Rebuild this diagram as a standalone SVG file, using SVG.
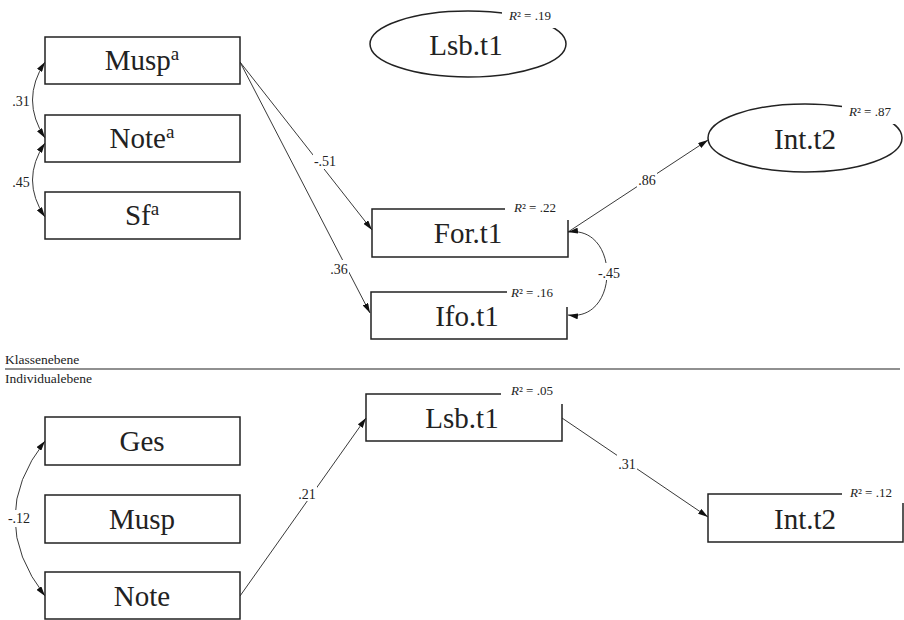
<svg xmlns="http://www.w3.org/2000/svg" width="904" height="620" viewBox="0 0 904 620">
<defs>
<marker id="ah" viewBox="0 0 10 6" refX="10" refY="3" markerWidth="10" markerHeight="6" markerUnits="userSpaceOnUse" orient="auto-start-reverse">
<path d="M0,0 L10,3 L0,6 z" fill="#111"/>
</marker>
<style>
text{font-family:"Liberation Serif","DejaVu Serif",serif;fill:#222}
.box{fill:#fff;stroke:#222;stroke-width:1.5}
.obox{fill:none;stroke:#222;stroke-width:1.5}
.lbl{font-size:29px;text-anchor:middle}
.r2{font-size:13px}
.el{font-size:14px;text-anchor:middle}
.lvl{font-size:13.5px}
.ln{fill:none;stroke:#222;stroke-width:0.9}
.bg{fill:#fff}
</style>
</defs>
<rect width="904" height="620" fill="#fff"/>

<g id="connectors">
<path class="ln" d="M240,62 L372,230" marker-end="url(#ah)"/>
<path class="ln" d="M240,62 L370,313" marker-end="url(#ah)"/>
<path class="ln" d="M568,232 L708,140" marker-end="url(#ah)"/>
<path class="ln" d="M568,232 C620,225 620,322 568,315" marker-start="url(#ah)" marker-end="url(#ah)"/>
<path class="ln" d="M45,62 Q20,100 45,138" marker-start="url(#ah)" marker-end="url(#ah)"/>
<path class="ln" d="M45,143 Q20,180 45,217" marker-start="url(#ah)" marker-end="url(#ah)"/>
<path class="ln" d="M45,441 Q-15,518 45,596" marker-start="url(#ah)" marker-end="url(#ah)"/>
<path class="ln" d="M240,596 L366,418" marker-end="url(#ah)"/>
<path class="ln" d="M562,418 L708,517" marker-end="url(#ah)"/>
<rect class="bg" x="313" y="152" width="24" height="17"/>
<text class="el" x="325" y="166">-.51</text>
<rect class="bg" x="329" y="260" width="20" height="17"/>
<text class="el" x="339" y="274">.36</text>
<rect class="bg" x="637" y="170" width="20" height="17"/>
<text class="el" x="647" y="185">.86</text>
<rect class="bg" x="596" y="263" width="26" height="17"/>
<text class="el" x="609" y="278">-.45</text>
<rect class="bg" x="10" y="92" width="20" height="17"/>
<text class="el" x="21" y="106">.31</text>
<rect class="bg" x="10" y="172" width="20" height="17"/>
<text class="el" x="21" y="187">.45</text>
<rect class="bg" x="6" y="510" width="26" height="17"/>
<text class="el" x="19" y="523">-.12</text>
<rect class="bg" x="297" y="484" width="20" height="17"/>
<text class="el" x="307" y="499">.21</text>
<rect class="bg" x="617" y="454" width="20" height="17"/>
<text class="el" x="627" y="469">.31</text>
</g>

<g id="musp_a">
<rect class="box" x="45" y="37" width="195" height="47"/>
<text class="lbl" x="142" y="70">Musp<tspan font-size="19" dy="-10">a</tspan></text>
</g>
<g id="note_a">
<rect class="box" x="45" y="115" width="195" height="47"/>
<text class="lbl" x="142" y="148">Note<tspan font-size="19" dy="-10">a</tspan></text>
</g>
<g id="sf_a">
<rect class="box" x="45" y="192" width="195" height="47"/>
<text class="lbl" x="142" y="225">Sf<tspan font-size="19" dy="-10">a</tspan></text>
</g>

<g id="lsb_t1_latent">
<ellipse class="obox" cx="468" cy="44" rx="98" ry="33"/>
<rect class="bg" x="502" y="3" width="60" height="25"/>
<text class="r2" x="509" y="20"><tspan font-style="italic">R</tspan>² = .19</text>
<text class="lbl" x="466" y="55" font-size="30">Lsb.t1</text>
</g>

<g id="int_t2_latent">
<ellipse class="obox" cx="805" cy="138" rx="97" ry="34"/>
<rect class="bg" x="842" y="99" width="62" height="25"/>
<text class="r2" x="849" y="116"><tspan font-style="italic">R</tspan>² = .87</text>
<text class="lbl" x="805" y="149" font-size="30">Int.t2</text>
</g>

<g id="for_t1">
<path class="obox" d="M505,209 H372 V257 H568 V220"/>
<text class="r2" x="514" y="212"><tspan font-style="italic">R</tspan>² = .22</text>
<text class="lbl" x="468" y="243">For.t1</text>
</g>

<g id="ifo_t1">
<path class="obox" d="M507,292 H371 V339 H567 V307"/>
<text class="r2" x="511" y="297"><tspan font-style="italic">R</tspan>² = .16</text>
<text class="lbl" x="467" y="326">Ifo.t1</text>
</g>

<g id="levels">
<line x1="5" y1="369" x2="900" y2="369" stroke="#222" stroke-width="1.2"/>
<text class="lvl" x="5" y="364">Klassenebene</text>
<text class="lvl" x="5" y="383">Individualebene</text>
</g>

<g id="ges">
<rect class="box" x="45" y="417" width="195" height="48"/>
<text class="lbl" x="142" y="451">Ges</text>
</g>
<g id="musp">
<rect class="box" x="45" y="495" width="195" height="48"/>
<text class="lbl" x="142" y="529">Musp</text>
</g>
<g id="note">
<rect class="box" x="45" y="572" width="195" height="47"/>
<text class="lbl" x="142" y="606">Note</text>
</g>

<g id="lsb_t1">
<path class="obox" d="M501,394 H366 V441 H562 V404"/>
<text class="r2" x="511" y="395"><tspan font-style="italic">R</tspan>² = .05</text>
<text class="lbl" x="462" y="428">Lsb.t1</text>
</g>

<g id="int_t2">
<path class="obox" d="M842,494 H708 V542 H903 V503"/>
<text class="r2" x="850" y="497"><tspan font-style="italic">R</tspan>² = .12</text>
<text class="lbl" x="805" y="529">Int.t2</text>
</g>
</svg>
